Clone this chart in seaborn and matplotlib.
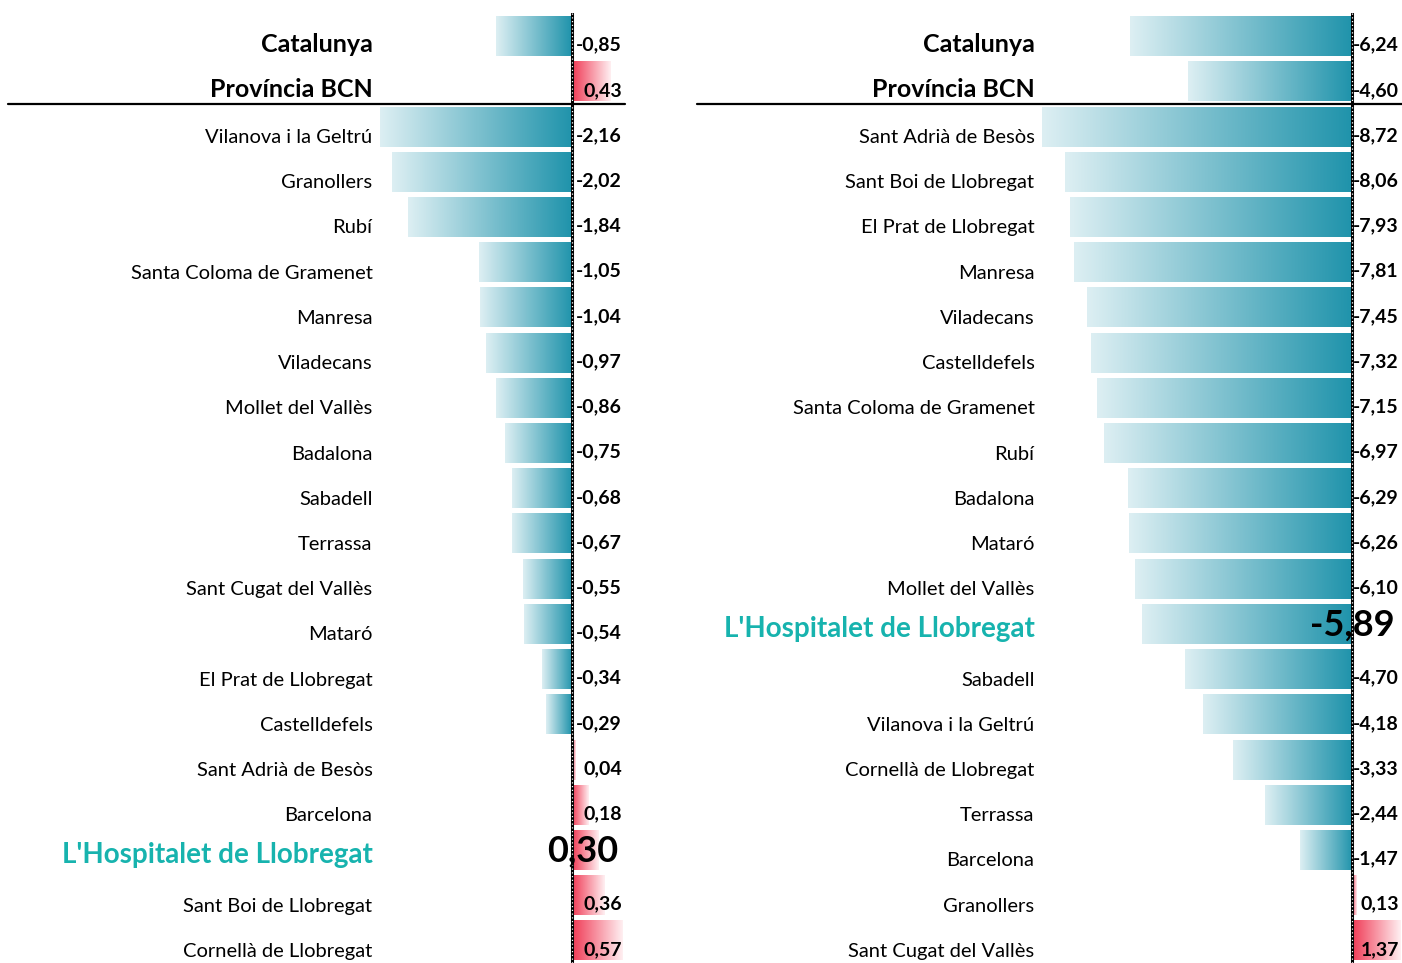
import numpy as np
import pandas as pd
import matplotlib
matplotlib.use("Agg")
import matplotlib.pyplot as plt
import seaborn as sns
from matplotlib.colors import to_rgba
from matplotlib.transforms import ScaledTranslation
from matplotlib.lines import Line2D

# ---------------- data ----------------
left_labels = ["Catalunya", "Província BCN", "Vilanova i la Geltrú", "Granollers", "Rubí",
               "Santa Coloma de Gramenet", "Manresa", "Viladecans", "Mollet del Vallès",
               "Badalona", "Sabadell", "Terrassa", "Sant Cugat del Vallès", "Mataró",
               "El Prat de Llobregat", "Castelldefels", "Sant Adrià de Besòs", "Barcelona",
               "L'Hospitalet de Llobregat", "Sant Boi de Llobregat", "Cornellà de Llobregat"]
left_values = [-0.85, 0.43, -2.16, -2.02, -1.84, -1.05, -1.04, -0.97, -0.86, -0.75, -0.68,
               -0.67, -0.55, -0.54, -0.34, -0.29, 0.04, 0.18, 0.30, 0.36, 0.57]

right_labels = ["Catalunya", "Província BCN", "Sant Adrià de Besòs", "Sant Boi de Llobregat",
                "El Prat de Llobregat", "Manresa", "Viladecans", "Castelldefels",
                "Santa Coloma de Gramenet", "Rubí", "Badalona", "Mataró", "Mollet del Vallès",
                "L'Hospitalet de Llobregat", "Sabadell", "Vilanova i la Geltrú",
                "Cornellà de Llobregat", "Terrassa", "Barcelona", "Granollers",
                "Sant Cugat del Vallès"]
right_values = [-6.24, -4.60, -8.72, -8.06, -7.93, -7.81, -7.45, -7.32, -7.15, -6.97, -6.29,
                -6.26, -6.10, -5.89, -4.70, -4.18, -3.33, -2.44, -1.47, 0.13, 1.37]

summary_labels = ["Catalunya", "Província BCN"]
highlight_label = "L'Hospitalet de Llobregat"

# ---------------- style ----------------
sns.set_theme(style="white")
plt.rcParams['font.family'] = ['Lato', 'DejaVu Sans']

TEAL_DARK = "#1f93ab"
TEAL_LIGHT = "#ddeff3"
RED_DARK = "#f03a55"
RED_LIGHT = "#fff0f2"
HIGHLIGHT = "#17b3ae"

W, H = 1402, 963
fig = plt.figure(figsize=(W / 100, H / 100), dpi=100)

top_px = 13.5
bottom_px = 963


def make_panel(px_left, px_right, labels, values):
    ax = fig.add_axes([px_left / W, 1 - bottom_px / H, (px_right - px_left) / W,
                       (bottom_px - top_px) / H])
    df = pd.DataFrame({"label": labels, "value": values})
    sns.barplot(data=df, x="value", y="label", orient="h", ax=ax, width=0.885,
                color=TEAL_DARK, order=labels)
    return ax


def style_panel(ax, labels, values, px_left, px_right, px_zero, scale, value_x_px):
    xmin = -(px_zero - px_left) / scale
    xmax = (px_right - px_zero) / scale
    # gradients
    for patch, v in zip(ax.patches, values):
        x0 = patch.get_x()
        w = patch.get_width()
        y0 = patch.get_y()
        h = patch.get_height()
        if v < 0:
            c0, c1 = to_rgba(TEAL_LIGHT), to_rgba(TEAL_DARK)
        else:
            c0, c1 = to_rgba(RED_DARK), to_rgba(RED_LIGHT)
        t = np.linspace(0, 1, 256)[None, :, None]
        grad = (1 - t) * np.array(c0)[None, None, :] + t * np.array(c1)[None, None, :]
        left, right = min(x0, x0 + w), max(x0, x0 + w)
        im = ax.imshow(grad, extent=[left, right, y0 + h, y0], aspect="auto",
                       interpolation="bicubic", zorder=2)
        im.set_clip_path(patch)
        patch.set_facecolor("none")
        patch.set_edgecolor("none")
    ax.set_xlim(xmin, xmax)
    ax.set_ylim(len(labels) - 0.5, -0.5)
    # zero line
    ax.axvline(0, color="black", lw=2.2, zorder=4)
    ax.axvline(0, color="white", lw=0.9, zorder=5, dashes=(1, 2))
    for s in ax.spines.values():
        s.set_visible(False)
    ax.set_xticks([])
    ax.set_xlabel("")
    ax.set_ylabel("")
    ax.tick_params(axis="y", length=0, pad=4)
    for tl in ax.get_yticklabels():
        txt = tl.get_text()
        if txt in summary_labels:
            tl.set_fontsize(18)
            tl.set_fontweight("bold")
            tl.set_color("black")
            tl.set_transform(tl.get_transform() + ScaledTranslation(0, -0.06, fig.dpi_scale_trans))
        elif txt == highlight_label:
            tl.set_fontsize(20)
            tl.set_fontweight("bold")
            tl.set_color(HIGHLIGHT)
            tl.set_transform(tl.get_transform() + ScaledTranslation(0, -0.03, fig.dpi_scale_trans))
        else:
            tl.set_fontsize(14.5)
            tl.set_color("black")
            tl.set_transform(tl.get_transform() + ScaledTranslation(0, -0.095, fig.dpi_scale_trans))
    # value labels
    frac = (value_x_px - px_left) / (px_right - px_left)
    tr = ax.get_yaxis_transform()
    for i, (lab, v) in enumerate(zip(labels, values)):
        s = f"{v:.2f}".replace(".", ",")
        if lab == highlight_label:
            ax.text(frac - 4 / (px_right - px_left), i + 0.02, s, transform=tr, ha="right",
                    va="center", fontsize=26, fontweight="bold", color="black", zorder=6)
        else:
            ax.text(frac, i + 0.2, s, transform=tr, ha="right", va="center",
                    fontsize=14, fontweight="bold", color="black", zorder=6)


axL = make_panel(378, 640, left_labels, left_values)
style_panel(axL, left_labels, left_values, 378, 640, 572, 88.9, 622)

axR = make_panel(1040, 1402, right_labels, right_values)
style_panel(axR, right_labels, right_values, 1040, 1402, 1352, 35.6, 1399)

# separator lines below summary rows
ysep = 1 - 104 / H
fig.add_artist(Line2D([8 / W, 625 / W], [ysep, ysep], color="black", lw=1.6,
                      transform=fig.transFigure))
fig.add_artist(Line2D([697 / W, 1402 / W], [ysep, ysep], color="black", lw=1.6,
                      transform=fig.transFigure))

fig.savefig("out.png", dpi=100, facecolor="white")
